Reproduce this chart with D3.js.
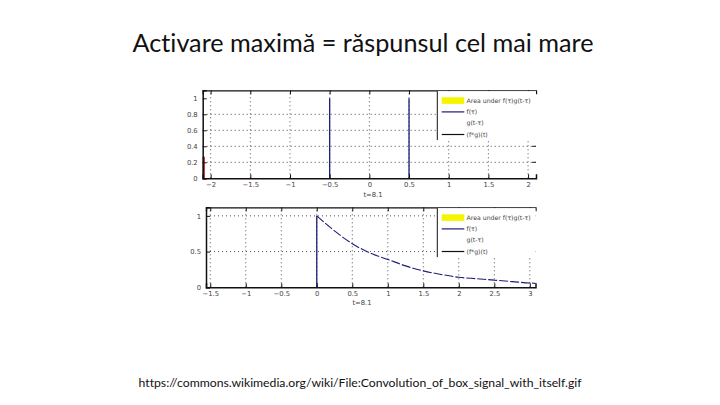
<!DOCTYPE html>
<html><head><meta charset="utf-8">
<script src="https://cdn.jsdelivr.net/npm/d3@7"></script>
<style>body{margin:0;background:#fff}svg{display:block}text{font-variant-ligatures:none}</style>
</head><body>
<script>
// ---- data ----
const titleText = "Activare maximă = răspunsul cel mai mare";
const sourceText = "https://commons.wikimedia.org/wiki/File:Convolution_of_box_signal_with_itself.gif";
const legendLabels = ["Area under f(τ)g(t-τ)", "f(τ)", "g(t-τ)", "(f*g)(t)"];
const xLabel = "t=8.1";
// top panel
const topXTicks = [-2, -1.5, -1, -0.5, 0, 0.5, 1, 1.5, 2];
const topYTicks = [0, 0.2, 0.4, 0.6, 0.8, 1];
const topYGrid = [0.2, 0.4, 0.6, 0.8];
const topBoxEdges = [-0.5, 0.5];      // f(τ) box edges
const topBoxHeight = 1;
const topRedX = -2.1;                 // g(t-τ) edge visible at left
const topRedHeight = 0.27;
// bottom panel
const botXTicks = [-1.5, -1, -0.5, 0, 0.5, 1, 1.5, 2, 2.5, 3];
const botYTicks = [0, 0.5, 1];
const botYGrid = [0.5, 1];
const decayT = [0, 0.25, 0.5, 0.75, 1, 1.25, 1.5, 1.75, 2, 2.25, 2.5, 2.75, 3, 3.08];
const decayV = [1, 0.79, 0.61, 0.48, 0.39, 0.3, 0.23, 0.18, 0.14, 0.12, 0.1, 0.08, 0.06, 0.055];

const W = 720, H = 405;
const svg = d3.select("body").append("svg").attr("width", W).attr("height", H);

function fitText(sel, target, size) {
  sel.attr("font-size", size);
  const w = sel.node().getComputedTextLength();
  sel.attr("font-size", size * target / w);
}

const title = svg.append("text").attr("x", 363).attr("y", 52).attr("text-anchor", "middle")
  .attr("font-family", "Lato, 'Open Sans', sans-serif").attr("fill", "#111").text(titleText);
fitText(title, 461, 24);

const src = svg.append("text").attr("x", 360).attr("y", 387).attr("text-anchor", "middle")
  .attr("font-family", "Lato, 'Open Sans', sans-serif").attr("fill", "#111").text(sourceText);
fitText(src, 443, 13);

const navy = "#1c1c7a";
const tickFont = "'DejaVu Sans', sans-serif";
const tickColor = "#444";

function panel(cfg) {
  const g = svg.append("g");
  const x = d3.scaleLinear().domain(cfg.xd).range(cfg.xr);
  const y = d3.scaleLinear().domain(cfg.yd).range(cfg.yr);
  const [x0, x1] = cfg.xr, [yb, yt] = cfg.yr;
  // grid
  g.append("g").selectAll("line").data(cfg.xTicks).join("line")
    .attr("x1", d => x(d)).attr("x2", d => x(d)).attr("y1", yb).attr("y2", yt)
    .attr("stroke", "#222").attr("stroke-width", 0.8).attr("stroke-dasharray", "1,3");
  g.append("g").selectAll("line").data(cfg.yGrid).join("line")
    .attr("x1", x0).attr("x2", x1).attr("y1", d => y(d)).attr("y2", d => y(d))
    .attr("stroke", "#222").attr("stroke-width", 0.8).attr("stroke-dasharray", "1,3");
  // right ticks (inward)
  g.append("g").selectAll("line").data(cfg.yTicks.filter(d => d > 0)).join("line")
    .attr("x1", x1 - 4).attr("x2", x1).attr("y1", d => y(d)).attr("y2", d => y(d))
    .attr("stroke", "#222").attr("stroke-width", 1);
  // top axis with inward ticks
  const top = g.append("g").attr("transform", `translate(0,${yt})`)
    .call(d3.axisTop(x).tickValues(cfg.xTicks).tickSize(-4).tickFormat(""));
  top.select(".domain").attr("stroke", "#111").attr("stroke-width", 1.3);
  top.selectAll(".tick line").attr("stroke", "#111");
  // data
  cfg.draw(g, x, y);
  // legend
  const lx = 437.3, ly = yt + 0.8, lw = x1 - lx, lh = 49;
  const lg = g.append("g");
  lg.append("rect").attr("x", lx).attr("y", ly).attr("width", lw).attr("height", lh).attr("fill", "#fff");
  lg.append("line").attr("x1", lx).attr("x2", lx).attr("y1", ly).attr("y2", ly + lh)
    .attr("stroke", "#111").attr("stroke-width", 1);
  const rows = legendLabels.map((t, i) => ({t, i, yy: ly + 9.5 + i * 11.3}));
  lg.selectAll("text").data(rows).join("text")
    .attr("x", 466.5).attr("y", d => d.yy + 2.2).attr("font-size", 6.2)
    .attr("font-family", tickFont).attr("fill", tickColor).text(d => d.t);
  lg.append("rect").attr("x", 441.7).attr("y", rows[0].yy - 3.3).attr("width", 22.6).attr("height", 6.6)
    .attr("fill", "#f5f500");
  lg.append("line").attr("x1", 441.7).attr("x2", 464.3).attr("y1", rows[1].yy).attr("y2", rows[1].yy)
    .attr("stroke", navy).attr("stroke-width", 1.2);
  lg.append("line").attr("x1", 441.7).attr("x2", 464.3).attr("y1", rows[3].yy).attr("y2", rows[3].yy)
    .attr("stroke", "#111").attr("stroke-width", 1.2);
  // left & bottom axes
  const ax = g.append("g").attr("transform", `translate(0,${yb})`)
    .call(d3.axisBottom(x).tickValues(cfg.xTicks).tickSize(-4).tickPadding(3.5).tickFormat(d3.format("")));
  ax.select(".domain").attr("stroke", "#111").attr("stroke-width", 1.5);
  ax.selectAll(".tick line").attr("stroke", "#111");
  ax.selectAll("text").attr("font-size", 6.8).attr("font-family", tickFont).attr("fill", tickColor);
  const ay = g.append("g").attr("transform", `translate(${x0},0)`)
    .call(d3.axisLeft(y).tickValues(cfg.yTicks).tickSize(-4).tickPadding(5).tickFormat(d3.format("")));
  ay.select(".domain").attr("stroke", "#111").attr("stroke-width", 1.5);
  ay.selectAll(".tick line").attr("stroke", "#111");
  ay.selectAll("text").attr("font-size", 6.8).attr("font-family", tickFont).attr("fill", tickColor);
  g.append("text").attr("x", cfg.labelX).attr("y", cfg.labelY).attr("text-anchor", "middle")
    .attr("font-size", 6.8).attr("font-family", tickFont).attr("fill", tickColor).text(xLabel);
}

panel({
  xd: [-2.1, 2.1], xr: [202.7, 536], yd: [0, 1.1], yr: [178.3, 90.3],
  xTicks: topXTicks, yTicks: topYTicks, yGrid: topYGrid, labelX: 373, labelY: 197,
  draw: (g, x, y) => {
    g.selectAll(".box").data(topBoxEdges).join("line").attr("class", "box")
      .attr("x1", d => x(d)).attr("x2", d => x(d)).attr("y1", y(0)).attr("y2", y(topBoxHeight))
      .attr("stroke", navy).attr("stroke-width", 1.3);
    g.append("line").attr("x1", x(topRedX) + 1).attr("x2", x(topRedX) + 1)
      .attr("y1", y(0)).attr("y2", y(topRedHeight)).attr("stroke", "#a01818").attr("stroke-width", 2.2);
  }
});

panel({
  xd: [-1.56, 3.08], xr: [206, 535.5], yd: [0, 1.12], yr: [287.3, 207.3],
  xTicks: botXTicks, yTicks: botYTicks, yGrid: botYGrid, labelX: 362, labelY: 305,
  draw: (g, x, y) => {
    g.append("line").attr("x1", x(0)).attr("x2", x(0)).attr("y1", y(0)).attr("y2", y(1))
      .attr("stroke", navy).attr("stroke-width", 1.3);
    const pts = decayT.map((t, i) => [t, decayV[i]]);
    g.append("path").datum(pts)
      .attr("d", d3.line().x(d => x(d[0])).y(d => y(d[1])).curve(d3.curveMonotoneX))
      .attr("fill", "none").attr("stroke", navy).attr("stroke-width", 1.1)
      .attr("stroke-dasharray", "9,2");
  }
});
</script>
</body></html>
